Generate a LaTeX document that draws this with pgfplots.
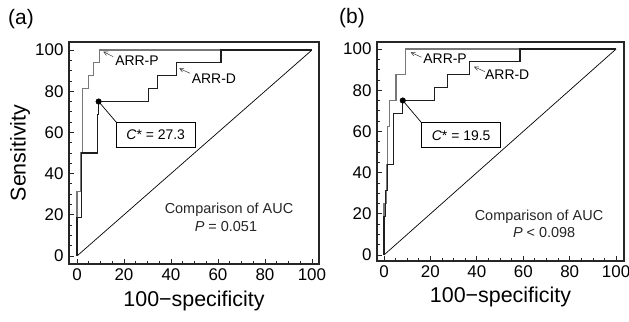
\documentclass[border=0pt]{standalone}
\usepackage{pgfplots}
\pgfplotsset{compat=1.18}
\usepackage{fontspec}
\setmainfont{Liberation Sans}
\usetikzlibrary{arrows.meta}
\definecolor{curveP}{RGB}{120,120,120}
\definecolor{curveD}{RGB}{30,30,30}
\pgfplotsset{
  rocaxis/.style={
    scale only axis,
    anchor=south west,
    axis line style={line width=1.1pt, black!85},
    xtick={0,20,40,60,80,100},
    ytick={0,20,40,60,80,100},
    minor tick num=3,
    tick align=inside,
    xtick pos=bottom,
    ytick pos=left,
    major tick length=4.5bp,
    minor tick length=3bp,
    every tick/.style={black!85, line width=0.8pt},
    /pgf/number format/assume math mode=true,
    ticklabel style={font=\fontsize{17}{17}\selectfont},
    xticklabel style={yshift=-1bp},
    yticklabel style={xshift=-2bp},
    every axis x label/.style={at={(axis description cs:0.5,-0.165)}, anchor=center},
    every axis y label/.style={at={(axis description cs:-0.196,0.5)}, rotate=90, anchor=center},
    label style={font=\fontsize{21.5}{21.5}\selectfont},
    clip=false,
  }
}
\begin{document}
\begin{tikzpicture}[x=1bp,y=1bp]
% ---------------- panel (a)
\begin{axis}[rocaxis, at={(69bp,58bp)}, width=250bp, height=222bp,
  xmin=-3.4, xmax=103, ymin=-3.9, ymax=103.9,
  xlabel={100−specificity}, ylabel={Sensitivity}]
\addplot[black, line width=0.7pt] coordinates {(0,0) (100,100)};
\addplot[curveP, line width=1.1pt] coordinates {
(0,0) (0,31.25) (1.5,31.25) (1.5,50) (2.3,50) (2.3,81.25) (4.8,81.25) (4.8,87.5)
(7.2,87.5) (7.2,93.75) (9.6,93.75) (9.6,100) (100,100)};
\addplot[curveD, line width=1.1pt] coordinates {
(0,0) (0,18.75) (1.9,18.75) (1.9,50) (8.9,50) (8.9,68.75) (9.2,68.75) (9.2,75)
(30.3,75) (30.3,81.25) (34.2,81.25) (34.2,87.5) (42.4,87.5) (42.4,93.75)
(61.3,93.75) (61.3,100) (100,100)};
\addplot[only marks, mark=*, mark size=2.8pt, black] coordinates {(9.2,75)};
\draw[black, line width=0.7pt] (axis cs:9.2,75) -- (axis cs:16.9,64.7);
\draw[black, line width=0.8pt] (axis cs:16.9,52.6) rectangle (axis cs:50.2,64.7);
\node[font=\fontsize{14}{14}\selectfont] at (axis cs:33.5,58.65) {\textit{C}* = 27.3};
\draw[black!80, line width=0.5pt, -{Straight Barb[length=4pt,width=4pt]}] (axis cs:15.4,96.8) -- (axis cs:11.2,99.2);
\node[font=\fontsize{14}{14}\selectfont, anchor=west, inner sep=0pt] at (axis cs:16.2,94.8) {ARR-P};
\draw[black!80, line width=0.5pt, -{Straight Barb[length=4pt,width=4pt]}] (axis cs:48.1,88.7) -- (axis cs:43.5,91.1);
\node[font=\fontsize{14}{14}\selectfont, anchor=west, inner sep=0pt] at (axis cs:48.8,86.3) {ARR-D};
\node[font=\fontsize{14.5}{14.5}\selectfont, text=black!85] at (axis cs:64.7,22.3) {Comparison of AUC};
\node[font=\fontsize{14.5}{14.5}\selectfont, text=black!85] at (axis cs:63.4,14.2) {\textit{P} = 0.051};
\end{axis}
% ---------------- panel (b)
\begin{axis}[rocaxis, at={(377bp,61bp)}, width=247bp, height=219bp,
  xmin=-3.0, xmax=103.4, ymin=-2.9, ymax=103.4,
  xlabel={100−specificity}]
\addplot[black, line width=0.7pt] coordinates {(0,0) (100,100)};
\addplot[curveP, line width=1.1pt] coordinates {
(0,0) (0,25) (0.9,25) (0.9,43.75) (1.4,43.75) (1.4,62.5) (2.2,62.5) (2.2,75)
(5.2,75) (5.2,87.5) (9.35,87.5) (9.35,100) (100,100)};
\addplot[curveD, line width=1.1pt] coordinates {
(0,0) (0,18.75) (0.5,18.75) (0.5,31.25) (1.4,31.25) (1.4,43.75) (4,43.75) (4,68.75)
(8.1,68.75) (8.1,75) (21.7,75) (21.7,81.25) (27.3,81.25) (27.3,87.5) (36.8,87.5)
(36.8,93.75) (58.6,93.75) (58.6,100) (100,100)};
\addplot[only marks, mark=*, mark size=2.8pt, black] coordinates {(8.1,75)};
\draw[black, line width=0.7pt] (axis cs:8.1,75) -- (axis cs:16.2,64.2);
\draw[black, line width=0.8pt] (axis cs:16.2,52.1) rectangle (axis cs:50.3,64.2);
\node[font=\fontsize{14}{14}\selectfont] at (axis cs:33.25,58.15) {\textit{C}* = 19.5};
\draw[black!80, line width=0.5pt, -{Straight Barb[length=4pt,width=4pt]}] (axis cs:16.2,96) -- (axis cs:11.5,98.4);
\node[font=\fontsize{14}{14}\selectfont, anchor=west, inner sep=0pt] at (axis cs:16.9,95.1) {ARR-P};
\draw[black!80, line width=0.5pt, -{Straight Barb[length=4pt,width=4pt]}] (axis cs:43.5,89) -- (axis cs:38.8,91.4);
\node[font=\fontsize{14}{14}\selectfont, anchor=west, inner sep=0pt] at (axis cs:43.5,87.7) {ARR-D};
\node[font=\fontsize{14.5}{14.5}\selectfont, text=black!85] at (axis cs:66.8,18.6) {Comparison of AUC};
\node[font=\fontsize{14.5}{14.5}\selectfont, text=black!85] at (axis cs:69,11) {\textit{P} < 0.098};
\end{axis}
\node[font=\fontsize{21}{21}\selectfont] at (21bp,303bp) {(a)};
\node[font=\fontsize{21}{21}\selectfont] at (352bp,304bp) {(b)};
\pgfresetboundingbox
\path (0,0) rectangle (629bp,322bp);
\end{tikzpicture}
\end{document}
